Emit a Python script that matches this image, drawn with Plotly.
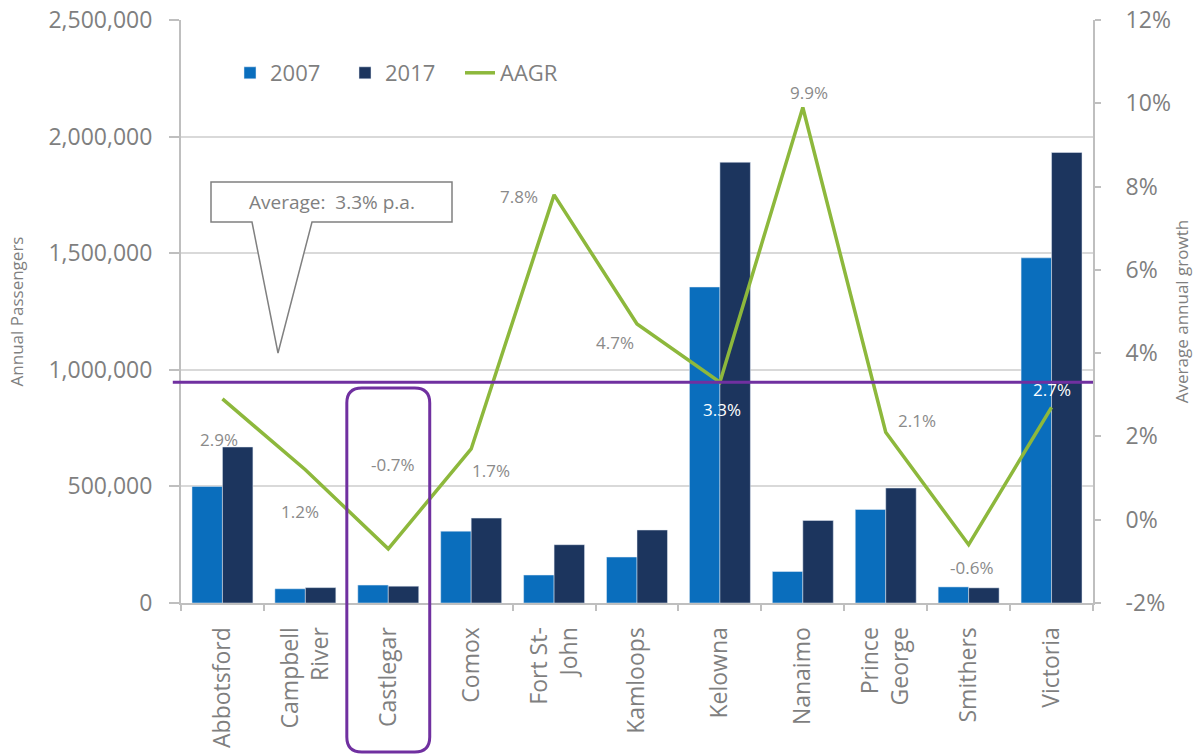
import plotly.graph_objects as go

# Regional airports, annual passengers and average annual growth (AAGR)
CITIES = ["Abbotsford", "Campbell River", "Castlegar", "Comox", "Fort St-John",
          "Kamloops", "Kelowna", "Nanaimo", "Prince George", "Smithers", "Victoria"]
TICK_LABELS = ["Abbotsford", "Campbell<br>River", "Castlegar", "Comox", "Fort St-<br>John",
               "Kamloops", "Kelowna", "Nanaimo", "Prince<br>George", "Smithers", "Victoria"]
PAX_2007 = [500000, 61000, 77000, 308000, 120000, 197000, 1355000, 135000, 401000, 69000, 1480000]
PAX_2017 = [669000, 66000, 72000, 364000, 250000, 313000, 1890000, 354000, 493000, 65000, 1932000]
AAGR = [2.9, 1.2, -0.7, 1.7, 7.8, 4.7, 3.3, 9.9, 2.1, -0.6, 2.7]
AVG_GROWTH = 3.3
HIGHLIGHT = "Castlegar"
GROWTH_TICKS = [-2, 0, 2, 4, 6, 8, 10, 12]
GROWTH_TICK_LABELS = ["-2%", "0%", "2%", "4%", "6%", "8%", "10%", "12%"]

# label nudges (px, +x right, +y down) for the growth labels
LABEL_NUDGE = [(-3, 41), (-5, 42), (4, -84), (20, 22), (-35, 2), (-22, 19),
               (2, 27), (6, -15), (31, -12), (3, 23), (0, -18)]
WHITE_LABELS = {"Kelowna", "Victoria"}

W, H = 1193, 754
PL, PR, PT, PB = 181, 1093, 20, 603  # plot area in pixels


def px(x):
    return (x - PL) / (PR - PL)


def py(y):
    return (PB - y) / (PB - PT)


GREY = "#7f7f7f"
AXIS = "#BFBFBF"
FONT = "Open Sans"

fig = go.Figure()
fig.add_trace(go.Bar(x=CITIES, y=PAX_2007, name="2007", marker_color="#0A6EBD"))
fig.add_trace(go.Bar(x=CITIES, y=PAX_2017, name="2017", marker_color="#1C355E"))
fig.add_trace(go.Scatter(x=CITIES, y=AAGR, name="AAGR", yaxis="y2", mode="lines",
                         line=dict(color="#8DB83C", width=3.5)))

annotations = []
for city, v, (dx, dy) in zip(CITIES, AAGR, LABEL_NUDGE):
    annotations.append(dict(
        x=city, y=v, xref="x", yref="y2", text=f"{v:.1f}%", showarrow=False,
        xshift=dx, yshift=-dy, xanchor="center", yanchor="middle",
        font=dict(family=FONT, size=17, color="white" if city in WHITE_LABELS else "#8a8a8a")))

# callout box with pointer
cx0, cx1, cy0, cy1 = 211, 452, 182, 222
callout = (f"M {px(cx0)},{py(cy0)} L {px(cx1)},{py(cy0)} L {px(cx1)},{py(cy1)} "
           f"L {px(312)},{py(cy1)} L {px(278)},{py(353)} L {px(252)},{py(cy1)} "
           f"L {px(cx0)},{py(cy1)} Z")
annotations.append(dict(x=px((cx0 + cx1) / 2), y=py((cy0 + cy1) / 2), xref="paper", yref="paper",
                        xanchor="center", yanchor="middle",
                        text=f"Average:  {AVG_GROWTH}% p.a.", showarrow=False,
                        font=dict(family=FONT, size=19, color="#808080")))

# rounded frame around the highlighted airport, spanning its category slot
n = len(CITIES)
i = CITIES.index(HIGHLIGHT)
bx0, bx1 = i / n, (i + 1) / n
by0, by1 = py(752), py(388)
rx, ry = 15 / (PR - PL), 15 / (PB - PT)
frame = (f"M {bx0 + rx},{by1} L {bx1 - rx},{by1} Q {bx1},{by1} {bx1},{by1 - ry} "
         f"L {bx1},{by0 + ry} Q {bx1},{by0} {bx1 - rx},{by0} "
         f"L {bx0 + rx},{by0} Q {bx0},{by0} {bx0},{by0 + ry} "
         f"L {bx0},{by1 - ry} Q {bx0},{by1} {bx0 + rx},{by1} Z")

shapes = [
    dict(type="path", path=callout, xref="paper", yref="paper",
         line=dict(color="#808080", width=1.5), fillcolor="white", layer="above"),
    dict(type="line", xref="paper", yref="y2", x0=-0.009, x1=1, y0=AVG_GROWTH, y1=AVG_GROWTH,
         line=dict(color="#7030A0", width=3), layer="above"),
    dict(type="path", path=frame, xref="paper", yref="paper",
         line=dict(color="#7030A0", width=3), layer="above"),
]

fig.update_layout(
    width=W, height=H,
    margin=dict(l=PL, r=W - PR, t=PT, b=H - PB, autoexpand=False),
    paper_bgcolor="white", plot_bgcolor="white",
    font=dict(family=FONT, color=GREY),
    barmode="group", bargap=0.265, bargroupgap=0,
    showlegend=True,
    legend=dict(orientation="h", x=px(230), y=py(52), xanchor="left", yanchor="top",
                font=dict(family=FONT, size=22, color=GREY), bgcolor="rgba(0,0,0,0)",
                itemwidth=30, traceorder="normal", entrywidth=70, entrywidthmode="pixels"),
    xaxis=dict(
        type="category", tickvals=CITIES, ticktext=TICK_LABELS, tickangle=-90,
        tickfont=dict(family=FONT, size=23, color=GREY),
        showline=True, linecolor=AXIS, linewidth=2,
        ticks="outside", tickson="boundaries", ticklen=6, tickcolor=AXIS, tickwidth=1.5,
        ticklabelstandoff=13, showgrid=False, range=[-0.5, n - 0.5],
    ),
    yaxis=dict(
        range=[0, 2500000], dtick=500000, tickformat=",",
        tickfont=dict(family=FONT, size=23, color=GREY),
        showgrid=True, gridcolor="#D9D9D9", gridwidth=1.5, zeroline=False,
        showline=True, linecolor=AXIS, linewidth=2,
        ticks="outside", ticklen=10, tickcolor=AXIS, tickwidth=1.5, ticklabelstandoff=12,
        title=dict(text="Annual Passengers", font=dict(family=FONT, size=17, color=GREY),
                   standoff=20),
    ),
    yaxis2=dict(
        overlaying="y", side="right", range=[-2, 12],
        tickvals=GROWTH_TICKS, ticktext=GROWTH_TICK_LABELS,
        tickfont=dict(family=FONT, size=23, color=GREY),
        showgrid=False, zeroline=False,
        showline=True, linecolor=AXIS, linewidth=2,
        ticks="outside", ticklen=6, tickcolor=AXIS, tickwidth=1.5, ticklabelstandoff=20,
        title=dict(text="Average annual growth", font=dict(family=FONT, size=17, color=GREY),
                   standoff=6),
    ),
    shapes=shapes,
    annotations=annotations,
)

fig.write_html("out.html")
